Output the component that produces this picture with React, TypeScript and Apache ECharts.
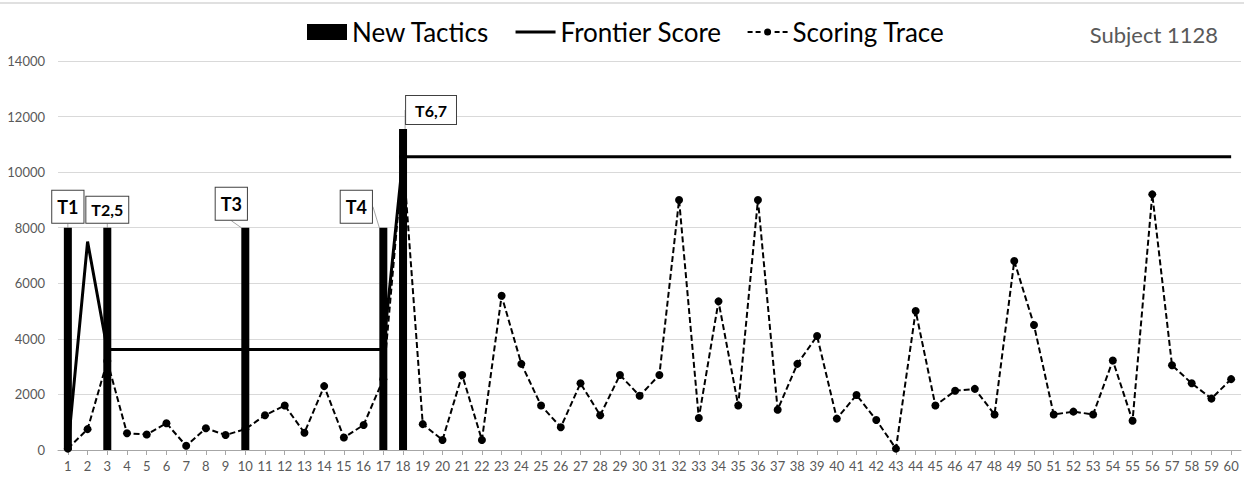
import React, { useEffect, useRef } from "react";
import * as echarts from "echarts";

const categories: string[] = Array.from({ length: 60 }, (_, i) => String(i + 1));

const scoringTrace: number[] = [
  50, 750, 3200, 600, 560, 960, 150, 780, 540, 750,
  1250, 1600, 620, 2300, 450, 900, 2550, 10550, 930, 360,
  2700, 360, 5550, 3100, 1600, 820, 2400, 1250, 2700, 1950,
  2700, 9000, 1150, 5350, 1600, 9000, 1450, 3100, 4100, 1130,
  1980, 1080, 50, 5000, 1600, 2130, 2200, 1280, 6800, 4500,
  1280, 1380, 1280, 3220, 1050, 9200, 3050, 2400, 1850, 2550,
];

const frontierScore: number[] = [
  50, 7500, 3620, 3620, 3620, 3620, 3620, 3620, 3620, 3620,
  3620, 3620, 3620, 3620, 3620, 3620, 3620, 10550, 10550, 10550,
  10550, 10550, 10550, 10550, 10550, 10550, 10550, 10550, 10550, 10550,
  10550, 10550, 10550, 10550, 10550, 10550, 10550, 10550, 10550, 10550,
  10550, 10550, 10550, 10550, 10550, 10550, 10550, 10550, 10550, 10550,
  10550, 10550, 10550, 10550, 10550, 10550, 10550, 10550, 10550, 10550,
];

const tacticCategories: string[] = ["1", "3", "10", "17", "18"];
const tacticValues: number[] = [8000, 8000, 8000, 8000, 11550];
const tacticLabels: string[] = ["T1", "T2,5", "T3", "T4", "T6,7"];

// label styling (not data)
const labelFont = [18, 16, 18, 18, 16];
const labelPad: number[][] = [
  [7, 5, 7, 5],
  [5, 5, 5, 5],
  [7, 5, 7, 5],
  [7, 5, 7, 5],
  [6, 9, 6, 9],
];
const labelShift: number[][] = [
  [0, 0],
  [0, 0],
  [-14, -3],
  [-27, 0],
  [28, 0],
];

const FONT = "Lato, 'Noto Sans', sans-serif";

const FRONTIER_ICON = "path://M0,0H40V3H0Z";
const TRACE_ICON =
  "path://M0,7H5V9H0Z M8,7H13V9H8Z M16.5,8A3.5,3.5 0 1 0 23.5,8A3.5,3.5 0 1 0 16.5,8Z M27,7H32V9H27Z M35,7H40V9H35Z";

export default function App() {
  const ref = useRef<HTMLDivElement>(null);

  useEffect(() => {
    if (!ref.current) return;
    const chart = echarts.init(ref.current, undefined, { renderer: "svg" });

    const barData: any[] = categories.map(() => "-");
    tacticCategories.forEach((c, k) => {
      const idx = categories.indexOf(c);
      barData[idx] = {
        value: tacticValues[k],
        label: {
          show: true,
          formatter: tacticLabels[k],
          fontSize: labelFont[k],
          padding: labelPad[k],
        },
      };
    });
    const shiftByIndex: Record<number, number[]> = {};
    tacticCategories.forEach((c, k) => {
      shiftByIndex[categories.indexOf(c)] = labelShift[k];
    });

    chart.setOption({
      animation: false,
      textStyle: { fontFamily: FONT },
      title: {
        text: "Subject 1128",
        right: 21,
        top: 18,
        textStyle: {
          fontFamily: FONT,
          fontSize: 22,
          fontWeight: "normal",
          color: "#595959",
        },
      },
      legend: {
        left: 302,
        top: 14,
        itemWidth: 40,
        itemHeight: 16,
        itemGap: 26,
        textStyle: { fontFamily: FONT, fontSize: 26, color: "#000" },
        data: [
          { name: "New Tactics", icon: "rect" },
          { name: "Frontier Score", icon: FRONTIER_ICON },
          { name: "Scoring Trace", icon: TRACE_ICON },
        ],
      },
      grid: { left: 58, right: 3, top: 61, bottom: 29, containLabel: false },
      xAxis: {
        type: "category",
        data: categories,
        boundaryGap: true,
        axisLine: { lineStyle: { color: "#a6a6a6", width: 1 } },
        axisTick: {
          show: true,
          alignWithLabel: true,
          length: 5,
          lineStyle: { color: "#a6a6a6" },
        },
        axisLabel: {
          color: "#595959",
          fontSize: 13,
          fontFamily: FONT,
          interval: 0,
          margin: 9,
        },
        splitLine: { show: false },
      },
      yAxis: {
        type: "value",
        min: 0,
        max: 14000,
        interval: 2000,
        axisLine: { show: false },
        axisTick: { show: false },
        axisLabel: {
          color: "#595959",
          fontSize: 13,
          fontFamily: FONT,
          margin: 13,
          formatter: (v: number) => String(v),
        },
        splitLine: { lineStyle: { color: "#d9d9d9", width: 1 } },
      },
      series: [
        {
          name: "New Tactics",
          type: "bar",
          data: barData,
          barWidth: 8,
          itemStyle: { color: "#000" },
          label: {
            show: true,
            position: "top",
            distance: 5,
            fontFamily: FONT,
            fontWeight: "bold",
            color: "#000",
            backgroundColor: "#fff",
            borderColor: "#404040",
            borderWidth: 1,
          },
          labelLine: {
            show: true,
            lineStyle: { color: "#a6a6a6", width: 1 },
          },
          labelLayout: (params: any) => {
            const s = shiftByIndex[params.dataIndex] || [0, 0];
            return { dx: s[0], dy: s[1] };
          },
          z: 1,
        },
        {
          name: "Frontier Score",
          type: "line",
          data: frontierScore,
          symbol: "none",
          lineStyle: { color: "#000", width: 3 },
          itemStyle: { color: "#000" },
          z: 3,
        },
        {
          name: "Scoring Trace",
          type: "line",
          data: scoringTrace,
          symbol: "circle",
          symbolSize: 8,
          lineStyle: { color: "#000", width: 2, type: [6, 3] },
          itemStyle: { color: "#000" },
          z: 4,
        },
      ],
      graphic: [
        {
          type: "line",
          shape: { x1: 0, y1: 3, x2: 1244, y2: 3 },
          style: { stroke: "#e0e0e0", lineWidth: 2 },
        },
      ],
    });

    return () => {
      chart.dispose();
    };
  }, []);

  return (
    <div
      ref={ref}
      style={{ position: "absolute", left: 0, top: 0, width: 1244, height: 479, background: "#fff" }}
    />
  );
}
